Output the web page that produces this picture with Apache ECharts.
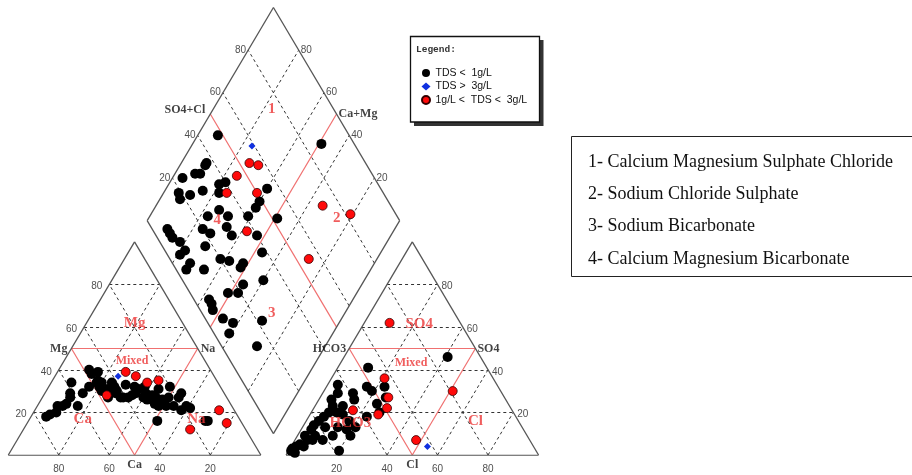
<!DOCTYPE html>
<html><head><meta charset="utf-8">
<script src="https://cdn.jsdelivr.net/npm/echarts@6/dist/echarts.min.js"></script>
<style>html,body{margin:0;padding:0;background:#fff}#c{width:912px;height:475px}</style>
</head><body><div id="c"></div>
<script>
// ---------- DATA ----------
// cation triangle: [Ca %, Mg %]
const cationLow = [[76,18],[74,19],[71,20],[69,23],[67,23],[65,24],[62,27],[61,29],[61,23],[56,29],[52,32],[48,40],[48,38],[48,34],[47,35],[48,32],[48,30],[46,34],[47,27],[42,34],[42,32],[43,29],[42,30],[42,27],[41,27],[37,33],[39,27],[37,28],[34,32],[35,29],[33,31],[33,27],[30,32],[31,29],[32,26],[29,28],[30,24],[28,27],[29,23],[25,31],[26,26],[26,23],[23,27],[20,32],[23,23],[19,27],[17,29],[21,21],[18,23],[17,22],[33,16],[14,16],[13,16],[45,31],[45,39],[58,34]];
const cationMid = [[34,39],[31,37],[28,34],[23,35],[47,28],[22,12],[6,21],[6,15]];
const cationHigh = [[38,37]];
// anion triangle: [Cl %, SO4 %]
const anionLow = [[41,46],[12,41],[4,33],[6,29],[12,29],[14,26],[16,32],[19,30],[23,32],[26,27],[24,24],[5,26],[7,23],[7,20],[6,18],[10,20],[13,19],[17,16],[21,13],[18,12],[14,13],[5,16],[4,14],[4,12],[3,9],[5,7],[3,5],[2,4],[1,3],[1,2],[3,1],[7,9],[11,7],[14,9],[20,2],[5,4],[7,7],[9,13],[11,23],[27,20],[23,18],[21,9]];
const anionMid = [[10,62],[21,36],[27,27],[29,22],[27,19],[16,21],[48,7],[51,30]];
const anionHigh = [[54,4]];
// diamond: [SO4+Cl %, Ca+Mg %]
const diamondLow = [[48,92],[37,90],[36,90],[30,92],[32,90],[37,80],[40,78],[29,85],[19,94],[23,89],[18,92],[35,78],[55,60],[49,60],[46,60],[41,61],[52,49],[25,77],[33,69],[6,90],[6,88],[20,76],[30,67],[40,53],[6,86],[8,82],[8,78],[5,79],[7,73],[4,73],[17,71],[20,62],[23,58],[26,52],[11,66],[23,47],[6,55],[5,53],[6,57],[7,47],[10,42],[6,41],[22,31],[14,27],[15,51],[19,47],[32,40],[38,47],[87,49],[31,74],[30,63],[28,52],[22,72],[24,96]];
const diamondMid = [[54,73],[57,69],[46,75],[38,75],[50,63],[37,58],[73,34],[82,21],[55,27]];
const diamondHigh = [[59,76]];

const tickValues = [20,40,60,80];
const legendNames = ['TDS <  1g/L','TDS >  3g/L','1g/L <  TDS <  3g/L'];
const fieldNotes = ['1- Calcium Magnesium Sulphate Chloride','2- Sodium Chloride Sulphate','3- Sodium Bicarbonate','4- Calcium Magnesium Bicarbonate'];

// ---------- TERNARY -> CARTESIAN ----------
const S3 = Math.sqrt(3)/2;
const GAP = 10;
function cat(ca, mg){ const na = 100-ca-mg; return [na + mg/2, mg*S3]; }
function an(cl, so4){ return [100+GAP + cl + so4/2, so4*S3]; }
function dia(a, c){ const bx = 100+GAP/2, by = GAP/2*2*S3; return [bx + 0.5*(a-c), by + (a+c)*S3]; }
const YMAX = GAP*S3 + 200*S3;

const frame = [], dashed = [], redL = [];
frame.push([cat(100,0),cat(0,0)],[cat(0,0),cat(0,100)],[cat(0,100),cat(100,0)]);
frame.push([an(0,0),an(100,0)],[an(100,0),an(0,100)],[an(0,100),an(0,0)]);
frame.push([dia(0,0),dia(100,0)],[dia(100,0),dia(100,100)],[dia(100,100),dia(0,100)],[dia(0,100),dia(0,0)]);
tickValues.forEach(t=>{
  dashed.push([cat(100-t,t),cat(0,t)],[cat(t,0),cat(t,100-t)],[cat(100-t,0),cat(0,100-t)]);
  dashed.push([an(0,t),an(100-t,t)],[an(t,0),an(t,100-t)],[an(100-t,0),an(0,100-t)]);
  dashed.push([dia(t,0),dia(t,100)],[dia(0,t),dia(100,t)]);
});
redL.push([cat(50,50),cat(0,50)],[cat(50,50),cat(50,0)],[cat(0,50),cat(50,0)]);
redL.push([an(0,50),an(50,50)],[an(0,50),an(50,0)],[an(50,50),an(50,0)]);
redL.push([dia(50,0),dia(50,100)],[dia(0,50),dia(100,50)]);

const pts = (c,a,d)=> c.map(p=>cat(p[0],p[1])).concat(a.map(p=>an(p[0],p[1])), d.map(p=>dia(p[0],p[1])));

// ---------- TEXT LABELS ----------
const tickFont = {fontFamily:'Liberation Sans', fontSize:10, color:'#222'};
const boldFont = {fontFamily:'Liberation Serif', fontSize:12, fontWeight:'bold', color:'#111'};
const redFont = {fontFamily:'Liberation Serif', fontSize:15, fontWeight:'bold', color:'#ec3434'};
const labels = [];
function L(pos, text, lab){ labels.push({name:String(text), value:pos, label:Object.assign({show:true}, lab)}); }
tickValues.forEach(t=>{
  L(cat(100-t,t), t, Object.assign({position:'left', distance:7, offset:[0,2]}, tickFont));
  L(cat(t,0), t, Object.assign({position:'bottom', distance:9}, tickFont));
  L(an(100-t,t), t, Object.assign({position:'right', distance:4, offset:[0,2]}, tickFont));
  L(an(t,0), t, Object.assign({position:'bottom', distance:9}, tickFont));
  L(dia(t,100), t, Object.assign({position:'left', distance:2}, tickFont));
  L(dia(100,t), t, Object.assign({position:'right', distance:2}, tickFont));
});
L(cat(50,50),'Mg',Object.assign({position:'left',distance:4},boldFont));
L(cat(0,50),'Na',Object.assign({position:'right',distance:3},boldFont));
L(cat(50,0),'Ca',Object.assign({position:'bottom',distance:4},boldFont));
L(an(0,50),'HCO3',Object.assign({position:'left',distance:3},boldFont));
L(an(50,50),'SO4',Object.assign({position:'right',distance:2},boldFont));
L(an(50,0),'Cl',Object.assign({position:'bottom',distance:4},boldFont));
L(dia(50,100),'SO4+Cl',Object.assign({position:'left',distance:5,offset:[0,-4]},boldFont));
L(dia(100,50),'Ca+Mg',Object.assign({position:'right',distance:2},boldFont));
// red region labels
L(cat(19,62),'Mg',Object.assign({position:'inside'},redFont));
L(cat(29,44),'Mixed',Object.assign({position:'inside'},redFont,{fontSize:12}));
L(cat(62,17),'Ca',Object.assign({position:'inside'},redFont));
L(cat(17,17),'Na',Object.assign({position:'inside'},redFont));
L(an(22,61.5),'SO4',Object.assign({position:'inside'},redFont));
L(an(28,43),'Mixed',Object.assign({position:'inside'},redFont,{fontSize:12}));
L(an(18,15),'HCO3',Object.assign({position:'inside'},redFont));
L(an(67,16),'Cl',Object.assign({position:'inside'},redFont));
L(dia(75.5,76.8),'1',Object.assign({position:'inside'},redFont));
L(dia(75.6,25.5),'2',Object.assign({position:'inside'},redFont));
L(dia(27.7,29.1),'3',Object.assign({position:'inside'},redFont));
L(dia(27.8,72.2),'4',Object.assign({position:'inside'},redFont));

// ---------- CHART ----------
const chart = echarts.init(document.getElementById('c'), null, {renderer:'canvas'});
const lineSeries = (data, style)=>({type:'lines', coordinateSystem:'cartesian2d', silent:true, animation:false, data:data.map(p=>({coords:p})), lineStyle:style});
const noteGraphics = fieldNotes.map((t,i)=>({type:'text', x:588, y:162+i*32.3, z:5, style:{text:t, fontFamily:'Liberation Serif', fontSize:18, fill:'#111', verticalAlign:'middle'}}));
chart.setOption({
  animation:false,
  grid:{left:8.3, top:7.5, width:530.25, height:447.5, containLabel:false},
  xAxis:{type:'value', min:0, max:210, show:false},
  yAxis:{type:'value', min:0, max:YMAX, show:false},
  legend:{left:416, top:62, orient:'vertical', itemWidth:9, itemHeight:8, itemGap:1.5, selectedMode:false, z:10,
    data:legendNames, textStyle:{fontFamily:'Liberation Sans', fontSize:10.5, color:'#111', lineHeight:12}},
  graphic:[
    {type:'rect', z:3, shape:{x:414,y:40,width:129.5,height:86}, style:{fill:'#333'}},
    {type:'rect', z:4, shape:{x:410.5,y:36.5,width:129,height:85.5}, style:{fill:'#fff', stroke:'#111', lineWidth:1.3}},
    {type:'text', z:5, x:416, y:50, style:{text:'Legend:', fontFamily:'Liberation Mono', fontSize:9.5, fontWeight:'bold', fill:'#333', verticalAlign:'middle'}},
    {type:'rect', z:4, shape:{x:571.5,y:136.5,width:360,height:140}, style:{fill:'#fff', stroke:'#222', lineWidth:1}}
  ].concat(noteGraphics),
  series:[
    lineSeries(dashed, {color:'#333', width:1, type:[3,3], opacity:1}),
    lineSeries(redL, {color:'#f07070', width:1.2, type:'solid', opacity:1}),
    lineSeries(frame, {color:'#555', width:1.3, type:'solid', opacity:1}),
    {type:'scatter', name:legendNames[0], symbol:'circle', symbolSize:10, itemStyle:{color:'#000', opacity:1}, data:pts(cationLow,anionLow,diamondLow), z:4},
    {type:'scatter', name:legendNames[1], symbol:'diamond', symbolSize:7, itemStyle:{color:'#1030e0', opacity:1}, data:pts(cationHigh,anionHigh,diamondHigh), z:5},
    {type:'scatter', name:legendNames[2], symbol:'circle', symbolSize:9, itemStyle:{color:'#ff0a0a', borderColor:'#300', borderWidth:0.8, opacity:1}, data:pts(cationMid,anionMid,diamondMid), z:6},
    {type:'scatter', name:'labels', symbolSize:0, silent:true, data:labels, z:7, label:{show:true, formatter:'{b}'}}
  ]
});
</script></body></html>
